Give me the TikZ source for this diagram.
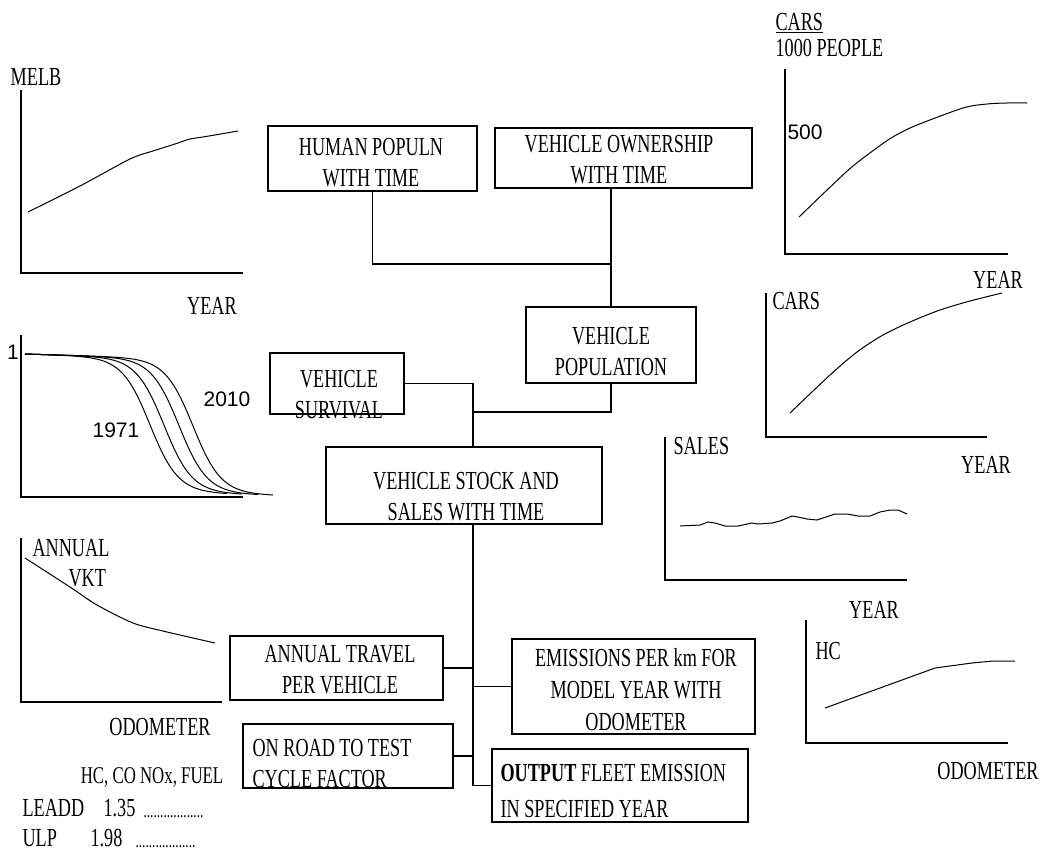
\documentclass[tikz,border=0pt]{standalone}
\usepackage{fontspec}
\setmainfont{Liberation Serif}[FakeStretch=0.7]
\newfontfamily\arialfont{Liberation Sans}

\begin{document}
\begin{tikzpicture}[x=1pt,y=-1pt,line width=1.1pt,
        blok/.style={draw,rectangle,inner sep=0pt},
        lbl/.style={inner sep=0pt,font=\fontsize{26}{31}\selectfont,align=center},
        num/.style={inner sep=0pt,font=\arialfont\fontsize{21}{25}\selectfont},
        curve/.style={line width=1pt,smooth}]
        \useasboundingbox (0,0) rectangle (1043,854);
        % graphs
        \draw (21,90) |- (243,273);
        \draw[curve] plot coordinates {(28,212) (80,186) (130,159) (153,151) (175,144) (190,139) (203,137) (238,131)};
        \node[lbl] (melb) at (36,77) {MELB};
        \node[lbl] (yrA) at (212,306) {YEAR};
        \draw (785,69) |- (1008,254);
        \draw[curve] plot coordinates {(799,217) (826,191) (853,166) (885,142) (900,133) (917,125) (963,108) (987,104) (1007,103) (1027,103)};
        \node[lbl,anchor=north west] (carsA) at (775,13) {\underline{CARS}};
        \node[lbl,anchor=west] (ppl) at (775,48) {1000 PEOPLE};
        \node[num,anchor=west] (n500) at (787,132) {500};
        \node[lbl] (yrB) at (998,280) {YEAR};
        \draw (766,293) |- (987,437);
        \draw[curve] plot coordinates {(790,413) (830,375) (857,352) (883,335) (910,322) (940,310) (970,301) (1002,293)};
        \node[lbl,anchor=west] (carsB) at (772,301) {CARS};
        \node[lbl] (yrC) at (986,465) {YEAR};
        \draw (665,437) |- (907,580);
        \draw[line width=1pt] plot coordinates {(680,526) (700,525) (708,522) (715,523) (725,526) (738,526) (752,523) (758,524) (772,523) (780,521) (792,516) (798,517) (807,519) (817,520) (823,518) (835,514) (847,514) (858,516) (870,516) (880,512) (890,510) (898,510) (907,514)};
        \node[lbl,anchor=west] (sales) at (673,446) {SALES};
        \node[lbl] (yrD) at (874,610) {YEAR};
        \draw (21,335) |- (243,497);
        \foreach \xo/\xe in {150/227,164/242,179/258,193/273}
            \draw[curve] plot[domain=25:\xe,samples=70] (\x,{354+0.03*(\x-25)+134/(1+exp(min(9,(\xo-\x)/14)))});
        \node[num] (one) at (13,352) {1};
        \node[num] (y2010) at (227,399) {2010};
        \node[num] (y1971) at (116,430) {1971};
        \draw (21,538) |- (222,702);
        \draw[curve] plot coordinates {(25,558) (70,587) (97,605) (133,623) (163,631) (193,638) (215,643)};
        \node[lbl,anchor=west] (annual) at (32,548) {ANNUAL};
        \node[lbl,anchor=west] (vkt) at (68,578) {VKT};
        \node[lbl] (odoA) at (160,727) {ODOMETER};
        \draw (806,620) |- (1008,743);
        \draw[line width=1pt] plot coordinates {(825,708) (935,668) (972,663) (993,661) (1015,661)};
        \node[lbl,anchor=west] (hc) at (815,651) {HC};
        \node[lbl] (odoB) at (988,771) {ODOMETER};
        % fuel factors
        \node[lbl,font=\fontsize{24}{28}\selectfont] (fuel) at (152,777) {HC, CO NOx, FUEL};
        \node[lbl,anchor=west] (leadd) at (22,808) {LEADD};
        \node[lbl,anchor=west] (fLeadd) at (103,808) {1.35};
        \node[lbl,anchor=base west] (dLeadd) at (143,817) {\fontsize{19}{19}\selectfont ..................};
        \node[lbl,anchor=west] (ulp) at (22,838) {ULP};
        \node[lbl,anchor=west] (fUlp) at (90,838) {1.98};
        \node[lbl,anchor=base west] (dUlp) at (135,847) {\fontsize{19}{19}\selectfont ..................};
        % boxes
        \node[blok,minimum width=209pt,minimum height=65pt] (human) at (372.5,158.5) {};
        \node[lbl] (humanT) at (371,162.5) {HUMAN POPULN\\WITH TIME};
        \node[blok,minimum width=257pt,minimum height=60pt] (own) at (623.5,158) {};
        \node[lbl] (ownT) at (619,159.5) {VEHICLE OWNERSHIP\\WITH TIME};
        \node[blok,minimum width=170pt,minimum height=76pt] (pop) at (611,345) {};
        \node[lbl] (popT) at (611,351.5) {VEHICLE\\POPULATION};
        \node[blok,minimum width=134pt,minimum height=61pt] (surv) at (337,383.5) {};
        \node[lbl] (survT) at (339,395) {VEHICLE\\SURVIVAL};
        \node[blok,minimum width=276pt,minimum height=77pt] (stock) at (464,485.5) {};
        \node[lbl] (stockT) at (466,496.5) {VEHICLE STOCK AND\\SALES WITH TIME};
        \node[blok,minimum width=213pt,minimum height=64pt] (travel) at (336.5,668) {};
        \node[lbl] (travelT) at (340,669.5) {ANNUAL TRAVEL\\PER VEHICLE};
        \node[blok,minimum width=210pt,minimum height=64pt] (onroad) at (348,756) {};
        \node[lbl,anchor=west,align=left] (onroadT) at (252,763.5) {ON ROAD TO TEST\\CYCLE FACTOR};
        \node[blok,minimum width=243pt,minimum height=95pt] (emis) at (633.5,686.5) {};
        \node[lbl,font=\fontsize{26}{32}\selectfont] (emisT) at (636,689.5) {EMISSIONS PER km FOR\\MODEL YEAR WITH\\ODOMETER};
        \node[blok,minimum width=256pt,minimum height=73pt] (out) at (620,785.5) {};
        \node[lbl,anchor=west,align=left,font=\fontsize{26}{36}\selectfont] (outT) at (500,791.5) {\textbf{OUTPUT} FLEET EMISSION\\IN SPECIFIED YEAR};
        % connectors
        \coordinate (jPop) at (611,264);
        \coordinate (trunk) at (473,412);
        \coordinate (tBot) at (473,783);
        \draw (human.south) |- (jPop);
        \draw (own.south -| pop.north) -- (pop.north);
        \draw (surv.east) -| (trunk) -- (trunk |- stock.north);
        \draw (pop.south) |- (trunk);
        \draw (stock.south -| tBot) |- (out.west);
        \draw (travel.east) -- (travel.east -| tBot);
        \draw (emis.west -| tBot) -- (emis.west);
        \draw (onroad.east) -- (onroad.east -| tBot);
    \end{tikzpicture}
\end{document}
